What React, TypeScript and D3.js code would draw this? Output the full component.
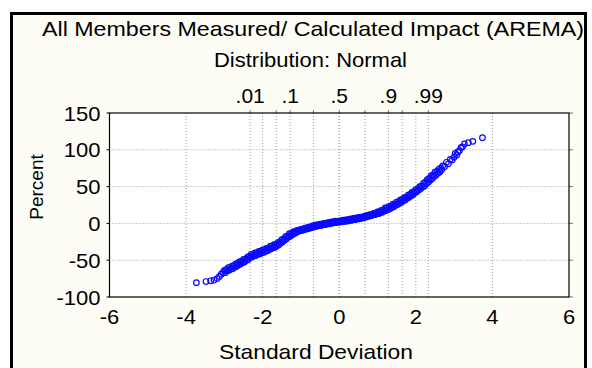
import React from "react";
import * as d3 from "d3";

const titleText = "All Members Measured/ Calculated Impact (AREMA)";
const subtitleText = "Distribution: Normal";
const xLabel = "Standard Deviation";
const yLabel = "Percent";

const xTicks = [-6, -4, -2, 0, 2, 4, 6];
const yTicks = [-100, -50, 0, 50, 100, 150];
const probGrid = [-2.326, -1.645, -1.282, -0.674, 0, 0.674, 1.282, 1.645, 2.326];
const probLabels = [".01", ".1", ".5", ".9", ".99"];
const probLabelZ = [-2.326, -1.282, 0, 1.282, 2.326];

// expected normal value (standard deviations) of each ordered observation
const zScores = [
  -3.73, -3.48, -3.36, -3.27, -3.19, -3.13, -3.08, -3.04,
  -3.0, -2.975, -2.95, -2.925, -2.9, -2.875, -2.85, -2.825, -2.8, -2.775, -2.75, -2.725,
  -2.7, -2.675, -2.65, -2.625, -2.6, -2.575, -2.55, -2.525, -2.5, -2.475, -2.45, -2.425,
  -2.4, -2.375, -2.35, -2.325, -2.3, -2.275, -2.25, -2.225, -2.2, -2.175, -2.15, -2.125,
  -2.1, -2.075, -2.05, -2.025, -2.0, -1.975, -1.95, -1.925, -1.9, -1.875, -1.85, -1.825,
  -1.8, -1.775, -1.75, -1.725, -1.7, -1.675, -1.65, -1.625, -1.6, -1.575, -1.55, -1.525,
  -1.5, -1.475, -1.45, -1.425, -1.4, -1.375, -1.35, -1.325, -1.3, -1.275, -1.25, -1.225,
  -1.2, -1.175, -1.15, -1.125, -1.1, -1.075, -1.05, -1.025, -1.0, -0.975, -0.95, -0.925,
  -0.9, -0.875, -0.85, -0.825, -0.8, -0.775, -0.75, -0.725, -0.7, -0.675, -0.65, -0.625,
  -0.6, -0.575, -0.55, -0.525, -0.5, -0.475, -0.45, -0.425, -0.4, -0.375, -0.35, -0.325,
  -0.3, -0.275, -0.25, -0.225, -0.2, -0.175, -0.15, -0.125, -0.1, -0.075, -0.05, -0.025,
  0.0, 0.025, 0.05, 0.075, 0.1, 0.125, 0.15, 0.175, 0.2, 0.225, 0.25, 0.275,
  0.3, 0.325, 0.35, 0.375, 0.4, 0.425, 0.45, 0.475, 0.5, 0.525, 0.55, 0.575,
  0.6, 0.625, 0.65, 0.675, 0.7, 0.725, 0.75, 0.775, 0.8, 0.825, 0.85, 0.875,
  0.9, 0.925, 0.95, 0.975, 1.0, 1.025, 1.05, 1.075, 1.1, 1.125, 1.15, 1.175,
  1.2, 1.225, 1.25, 1.275, 1.3, 1.325, 1.35, 1.375, 1.4, 1.425, 1.45, 1.475,
  1.5, 1.525, 1.55, 1.575, 1.6, 1.625, 1.65, 1.675, 1.7, 1.725, 1.75, 1.775,
  1.8, 1.825, 1.85, 1.875, 1.9, 1.925, 1.95, 1.975, 2.0, 2.025, 2.05, 2.075,
  2.1, 2.125, 2.15, 2.175, 2.2, 2.225, 2.25, 2.275, 2.3, 2.325, 2.35, 2.375,
  2.4, 2.425, 2.45, 2.475, 2.5, 2.525, 2.55, 2.575, 2.6, 2.625, 2.65, 2.675,
  2.7, 2.75, 2.8, 2.85, 2.9, 2.95, 3.0,
  3.03, 3.07, 3.1, 3.14, 3.18, 3.22, 3.27, 3.37, 3.49, 3.74,
];

// measured / calculated impact (percent), ordered
const impactValues = [
  -80.5, -79, -78, -77, -75, -72, -69, -67,
  -64, -67, -63, -64.5, -60, -63.5, -60, -62, -58, -61.3, -57.5, -59.3,
  -55, -58.3, -54.5, -56.3, -52, -55.3, -51.5, -53.3, -49, -52.3, -48.5, -50.3,
  -46, -49, -45, -46.5, -42, -45.5, -42, -44, -40, -43.5, -40, -42,
  -38, -41.5, -38, -40, -36, -39.5, -36, -38, -34, -37.3, -33.5, -35.3,
  -31, -34.5, -31, -33, -29, -32.3, -28.5, -30.3, -26, -29, -25, -26.5,
  -22, -25, -21, -22.5, -18, -21, -17, -18.5, -14, -17.3, -13.5, -15.3,
  -11.5, -13.9, -11, -12.3, -9.5, -11.1, -9.2, -10.1, -8, -9.6, -7.7, -8.6,
  -6.5, -8.1, -6.2, -7.1, -5, -6.6, -4.7, -5.6, -3.5, -5.1, -3.2, -4.1,
  -2, -3.75, -2, -2.95, -1, -2.75, -1, -1.95, 0, -1.75, 0, -0.95,
  1, -0.75, 1, 0.05, 2, 0.25, 2, 1.05, 3, 1.1, 2.75, 1.7,
  3.5, 1.75, 3.5, 2.55, 4.5, 2.6, 4.25, 3.2, 5, 3.25, 5, 4.05,
  6, 4.25, 6, 5.05, 7, 5.25, 7, 6.05, 8, 6.25, 8, 7.05,
  9, 7.4, 9.25, 8.4, 10.5, 8.9, 10.75, 9.9, 12, 10.4, 12.25, 11.4,
  13.5, 11.9, 13.75, 12.9, 15.5, 13.2, 15.8, 14.4, 17.5, 15.3, 18.3, 17,
  21, 17.5, 21, 19, 23, 19.75, 23.5, 21.75, 26, 22.75, 26.5, 24.75,
  29, 25.75, 29.5, 27.75, 32, 28.75, 32.5, 30.75, 35, 31.9, 35.75, 34.1,
  38.5, 35.4, 39.25, 37.6, 42, 39, 43, 41.5, 46, 43, 47, 45.5,
  50, 47, 51, 49.5, 54.5, 50.75, 56, 53.75, 59.5, 55.75, 61, 58.75,
  64.5, 60.75, 66, 63.75, 69.5, 65.5, 70.5, 68, 73.5, 69.75, 75, 72.75,
  78, 77, 83, 81, 87, 86, 90,
  95, 93, 97, 99, 103, 104, 108, 109.7, 111.5, 116.4,
];

const W = 592;
const H = 368;
const plot = { left: 109.5, right: 569, top: 113, bottom: 297 };

export default function App() {
  const x = d3.scaleLinear().domain([-6, 6]).range([plot.left, plot.right]);
  const y = d3.scaleLinear().domain([-100, 150]).range([plot.bottom, plot.top]);
  const font = "'Liberation Sans', Arial, sans-serif";
  const gridColor = "#9a9a9a";
  const vGrid = [...xTicks.filter((t) => t > -6 && t < 6), ...probGrid];
  const hGrid = yTicks.filter((t) => t > -100 && t < 150);

  return (
    <svg
      width={W}
      height={H}
      style={{ position: "absolute", left: 0, top: 0, background: "#ffffff" }}
      fontFamily={font}
    >
      <rect x={11.5} y={13.5} width={574} height={380} fill="#fdfdf6" stroke="#000" strokeWidth={3} />
      <rect x={plot.left} y={plot.top} width={plot.right - plot.left} height={plot.bottom - plot.top} fill="#ffffff" />

      {vGrid.map((v, i) => (
        <line key={"v" + i} x1={x(v)} x2={x(v)} y1={plot.top} y2={plot.bottom} stroke={gridColor} strokeWidth={1} strokeDasharray="1,2" />
      ))}
      {hGrid.map((v, i) => (
        <line key={"h" + i} x1={plot.left} x2={plot.right} y1={y(v)} y2={y(v)} stroke={gridColor} strokeWidth={1} strokeDasharray="1,2" />
      ))}

      {yTicks.map((v, i) => (
        <g key={"yt" + i}>
          <line x1={plot.left - 3} x2={plot.left} y1={y(v)} y2={y(v)} stroke="#000" />
          <line x1={plot.right} x2={plot.right + 4} y1={y(v)} y2={y(v)} stroke="#777" />
          <text transform={`translate(${plot.left - 9},${y(v) + 7.5}) scale(1.1,1)`} textAnchor="end" fontSize={20} fill="#000">
            {v}
          </text>
        </g>
      ))}
      {probGrid.map((v, i) => (
        <line key={"pt" + i} x1={x(v)} x2={x(v)} y1={plot.top - 3} y2={plot.top} stroke="#777" />
      ))}
      {xTicks.map((v, i) => (
        <text key={"xt" + i} transform={`translate(${x(v)},${324}) scale(1.1,1)`} textAnchor="middle" fontSize={20} fill="#000">
          {v}
        </text>
      ))}
      {probLabels.map((l, i) => (
        <text key={"pl" + i} transform={`translate(${x(probLabelZ[i])},${103}) scale(1.05,1)`} textAnchor="middle" fontSize={20} fill="#000">
          {l}
        </text>
      ))}

      <rect x={plot.left} y={plot.top} width={plot.right - plot.left} height={plot.bottom - plot.top} fill="none" stroke="#000" strokeWidth={1.2} />

      {zScores.map((z, i) => (
        <circle key={"p" + i} cx={x(z)} cy={y(impactValues[i])} r={2.8} fill="none" stroke="#0a0aff" strokeWidth={1.2} />
      ))}

      <text x={42} y={35.5} fontSize={21} textLength={542} lengthAdjust="spacingAndGlyphs" fill="#000">
        {titleText}
      </text>
      <text x={214} y={66.5} fontSize={21} textLength={193} lengthAdjust="spacingAndGlyphs" fill="#000">
        {subtitleText}
      </text>
      <text x={219} y={359} fontSize={21} textLength={194} lengthAdjust="spacingAndGlyphs" fill="#000">
        {xLabel}
      </text>
      <text transform={`translate(43,187) rotate(-90)`} textAnchor="middle" fontSize={19} fill="#000">
        {yLabel}
      </text>
    </svg>
  );
}
